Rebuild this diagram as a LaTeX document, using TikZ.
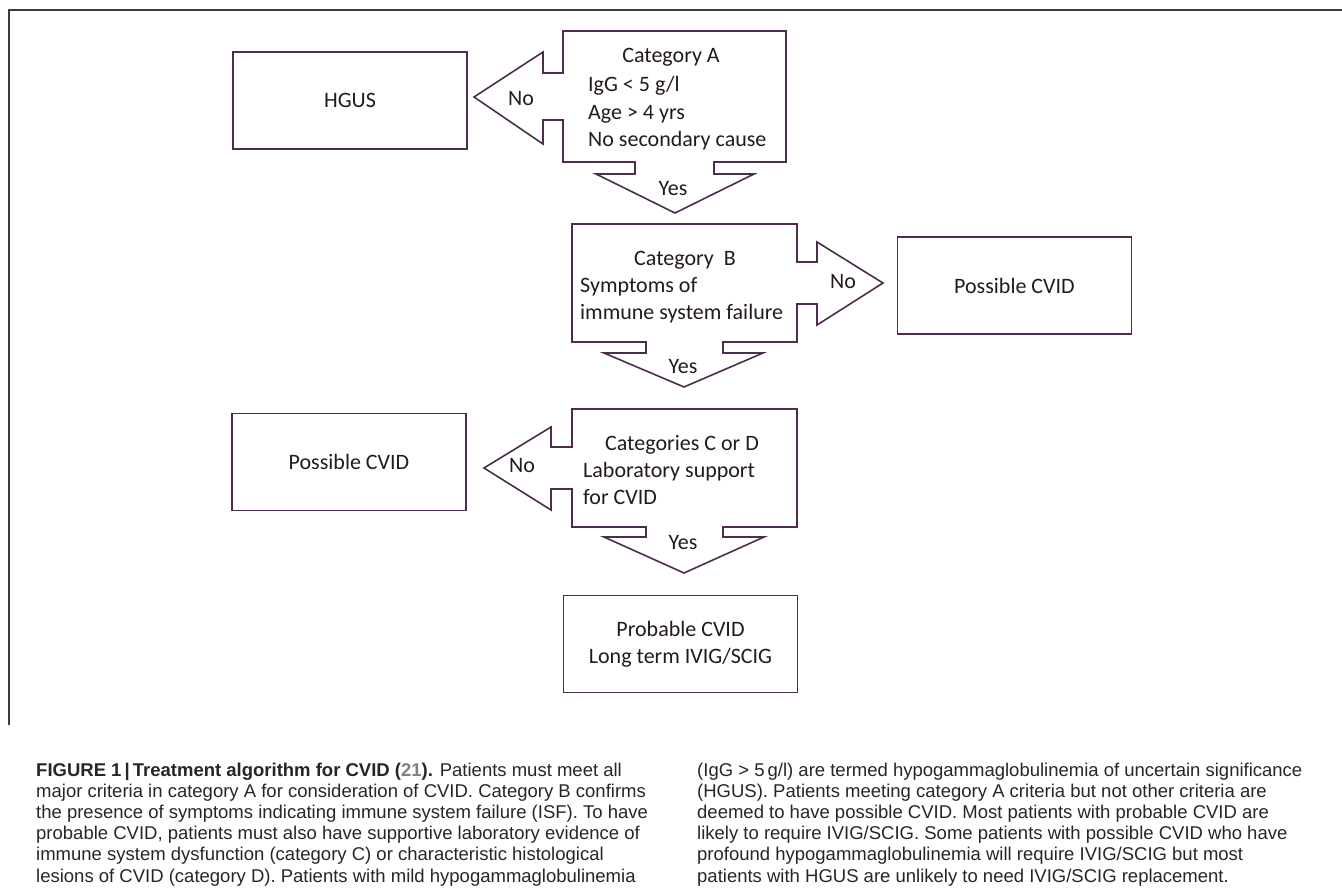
\documentclass[tikz,border=0pt]{standalone}
\usepackage{fontspec}
\setmainfont{Carlito}
\newfontfamily\capfont{Liberation Sans}
\definecolor{plum}{RGB}{78,44,78}
\definecolor{plumtext}{RGB}{35,25,35}
\definecolor{framegray}{RGB}{60,60,60}
\newcommand{\diag}{\fontsize{22}{27}\selectfont}
\tikzset{
  box/.style={draw=plum, line width=1.6pt, minimum width=234pt, minimum height=97pt,
    inner sep=0pt, align=center, text=plumtext, font=\diag},
  callout/.style={draw=plum, line width=1.6pt, line join=miter},
  lbl/.style={inner sep=0pt, text=plumtext, font=\diag},
  capline/.style={inner sep=0pt, align=left, text=black!85,
    font=\capfont\fontsize{18.5}{21.2}\selectfont}
}
\begin{document}
\begin{tikzpicture}[x=1pt, y=-1pt]
\useasboundingbox (0,0) rectangle (1342,891);

% Frame
\draw[framegray, line width=2pt] (9,725) -- (9,10) -- (1342,10);

% Category A
\draw[callout] (563,31) -- (786,31) -- (786,162) -- (714,162) -- (714,174) -- (754,174)
  -- (675,213) -- (596,174) -- (635,174) -- (635,162) -- (563,162) -- (563,120)
  -- (543,120) -- (543,144) -- (474,97) -- (543,52) -- (543,73) -- (563,73) -- cycle;
\node[lbl, anchor=base] (catA) at (671,63) {Category A};
\node[lbl, anchor=base west] (critA1) at (588,92) {IgG < 5 g/l};
\node[lbl, anchor=base west] (critA2) at (588,119) {Age > 4 yrs};
\node[lbl, anchor=base west] (critA3) at (588,146) {No secondary cause};
\node[lbl] (noA) at (521,99) {No};
\node[lbl] (yesA) at (673,189) {Yes};

% Category B
\draw[callout] (572,224) -- (797,224) -- (797,262) -- (817,262) -- (817,242) -- (883,283)
  -- (817,325) -- (817,304) -- (797,304) -- (797,342) -- (723,342) -- (723,353)
  -- (763,353) -- (684,387) -- (604,353) -- (646,353) -- (646,342) -- (572,342) -- cycle;
\node[lbl, anchor=base] (catB) at (685,265) {Category\ \ B};
\node[lbl, anchor=base west] (critB1) at (580,292) {Symptoms of};
\node[lbl, anchor=base west] (critB2) at (580,319) {immune system failure};
\node[lbl] (noB) at (843,282) {No};
\node[lbl] (yesB) at (683,367) {Yes};

% Categories C or D
\draw[callout] (572,409) -- (797,409) -- (797,527) -- (723,527) -- (723,537) -- (764,537)
  -- (684,573) -- (604,537) -- (646,537) -- (646,527) -- (572,527) -- (572,489)
  -- (551,489) -- (551,510) -- (484,468) -- (551,427) -- (551,447) -- (572,447) -- cycle;
\node[lbl, anchor=base] (catCD) at (682,450) {Categories C or D};
\node[lbl, anchor=base west] (critCD1) at (583,477) {Laboratory support};
\node[lbl, anchor=base west] (critCD2) at (583,504) {for CVID};
\node[lbl] (noCD) at (522,466) {No};
\node[lbl] (yesCD) at (683,543) {Yes};

% Outcome boxes
\node[box] (hgus) at (350,100.5) {HGUS};
\node[box] (possR) at (1014.5,285.5) {Possible CVID};
\node[box] (possL) at (349,462) {Possible CVID};
\node[box] (prob) at (680.5,644) {Probable CVID\\Long term IVIG/SCIG};

% Caption
\node[capline, anchor=base west] (capL) at (36,882)
  {\textbf{FIGURE 1\,|\,Treatment algorithm for CVID (\textcolor{gray}{21}).} Patients must meet all\\
   major criteria in category A for consideration of CVID. Category B confirms\\
   the presence of symptoms indicating immune system failure (ISF). To have\\
   probable CVID, patients must also have supportive laboratory evidence of\\
   immune system dysfunction (category C) or characteristic histological\\
   lesions of CVID (category D). Patients with mild hypogammaglobulinemia};
\node[capline, anchor=base west] (capR) at (697,882)
  {(IgG > 5\,g/l) are termed hypogammaglobulinemia of uncertain significance\\
   (HGUS). Patients meeting category A criteria but not other criteria are\\
   deemed to have possible CVID. Most patients with probable CVID are\\
   likely to require IVIG/SCIG. Some patients with possible CVID who have\\
   profound hypogammaglobulinemia will require IVIG/SCIG but most\\
   patients with HGUS are unlikely to need IVIG/SCIG replacement.};
\end{tikzpicture}
\end{document}
